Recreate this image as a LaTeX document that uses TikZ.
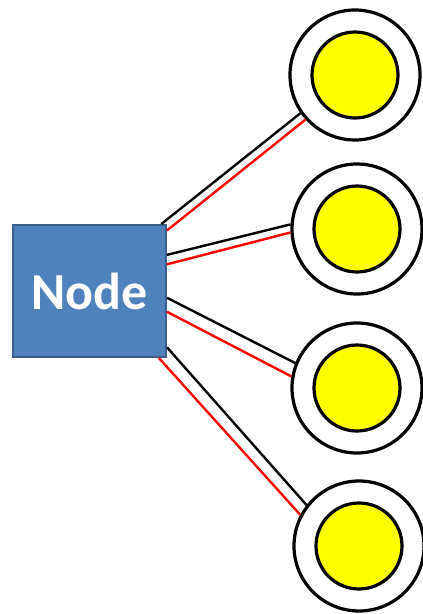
\documentclass[tikz,border=0pt]{standalone}
\usepackage{fontspec}
\setsansfont{Carlito}
\usepackage{tikz}
\definecolor{boxblue}{HTML}{4F81BD}
\definecolor{boxedge}{HTML}{3A5F8B}
\definecolor{coreyellow}{HTML}{FFFF00}
\definecolor{linered}{HTML}{FF0000}
\tikzset{
	hubbox/.style={rectangle, fill=boxblue, draw=boxedge, line width=2pt, minimum width=153pt, minimum height=132pt, text=white, font=\sffamily\bfseries\fontsize{52}{52}\selectfont},
	ring/.style={circle, fill=white, draw=black, line width=3.2pt, minimum size=130pt, inner sep=0pt},
	core/.style={circle, fill=coreyellow, draw=black, line width=3.2pt, minimum size=86pt, inner sep=0pt},
	blk/.style={draw=black, line width=2.4pt},
	rd/.style={draw=linered, line width=2.4pt}
}

\begin{document}
\begin{tikzpicture}[x=1pt, y=-1pt]
		\useasboundingbox (0,0) rectangle (423,614);
		
		\node[hubbox] (hub) at (89.5,291) {Node};
		
		\node[ring] (r1) at (355,75) {};
		\node[core] (c1) at (355,75) {};
		\node[ring] (r2) at (357,229) {};
		\node[core] (c2) at (357,229) {};
		\node[ring] (r3) at (357,388) {};
		\node[core] (c3) at (357,388) {};
		\node[ring] (r4) at (359,546) {};
		\node[core] (c4) at (359,546) {};
		
		\draw [blk] (hub.43.5) -- (r1.215);
		\draw [rd] (hub.38.7) -- (r1.222);
		
		\draw [blk] (hub.25.8) -- (r2.176.5);
		\draw [rd] (hub.19.6) -- (r2.183.8);
		
		\draw [blk] (hub.-5.8) -- (r3.158);
		\draw [rd] (hub.-15.7) -- (r3.170.4);
		
		\draw [blk] (hub.-36.3) -- (r4.142.5);
		\draw [rd] (hub.-44.4) -- (r4.152.4);
	\end{tikzpicture}
\end{document}
